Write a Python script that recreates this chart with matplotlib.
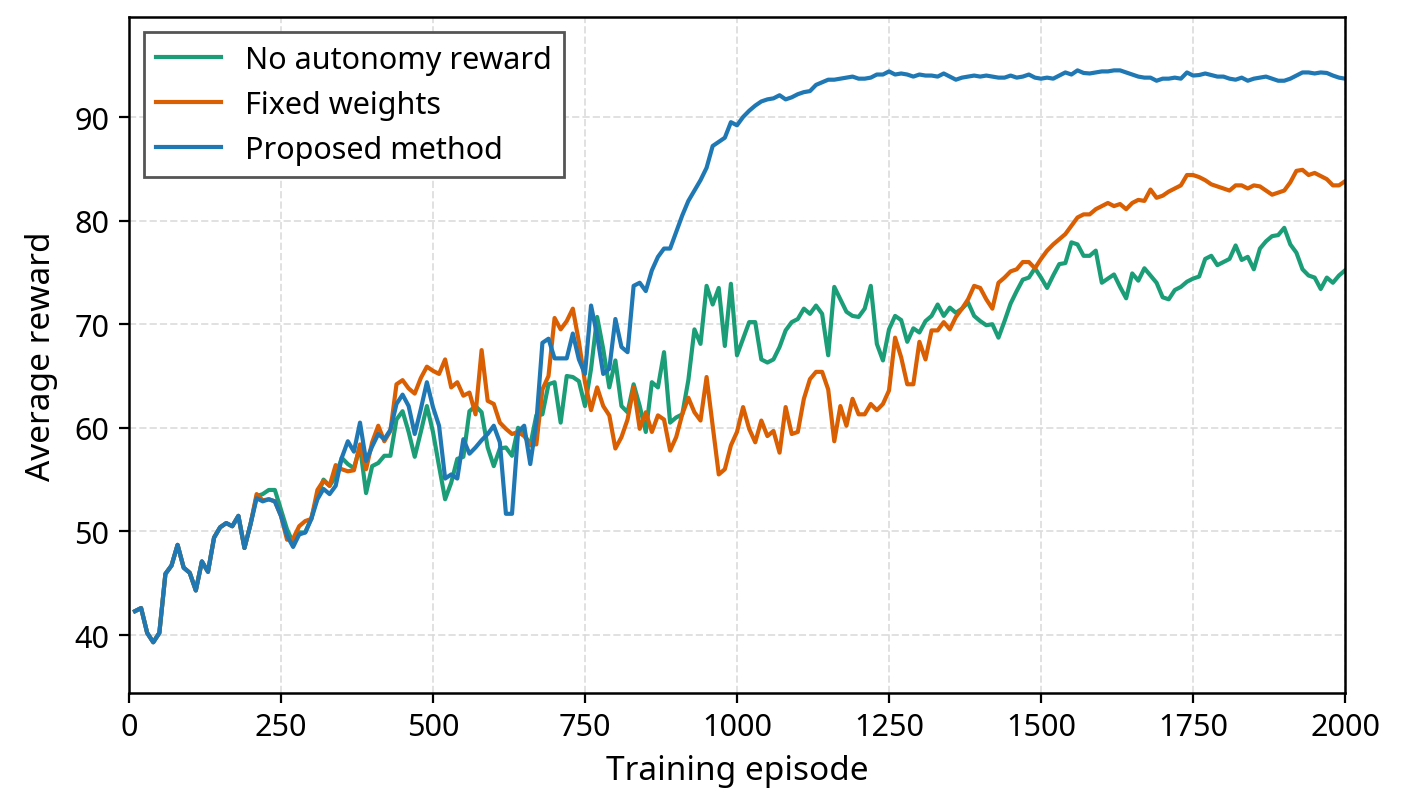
import numpy as np
import matplotlib
matplotlib.use('Agg')
import matplotlib.pyplot as plt

plt.rcParams['font.family'] = ['Noto Sans', 'DejaVu Sans']

# 每10个episode记录一次平均奖励
episodes = np.arange(10, 2001, 10)

no_autonomy = [
    42.3, 42.6, 40.2, 39.3, 40.2, 45.9, 46.7, 48.7, 46.5, 46.0,
    44.3, 47.1, 46.1, 49.4, 50.4, 50.8, 50.5, 51.5, 48.4, 50.7,
    53.4, 53.6, 54.0, 54.0, 52.1, 50.2, 48.9, 49.9, 49.9, 51.3,
    53.4, 55.0, 54.4, 55.3, 57.1, 56.5, 56.1, 58.2, 53.7, 56.3,
    56.6, 57.3, 57.3, 60.8, 61.6, 59.6, 57.2, 59.6, 62.1, 59.6,
    56.3, 53.1, 54.7, 57.0, 57.2, 61.6, 62.1, 61.5, 58.1, 56.3,
    58.0, 58.1, 57.3, 60.0, 59.4, 58.3, 61.2, 61.3, 64.2, 64.4,
    60.5, 65.0, 64.9, 64.5, 62.1, 65.7, 70.7, 67.6, 63.9, 66.5,
    62.1, 61.5, 64.2, 62.1, 59.6, 64.4, 63.9, 67.3, 60.5, 61.0,
    61.3, 64.6, 69.5, 68.1, 73.7, 71.9, 73.5, 67.9, 73.9, 67.0,
    68.6, 70.2, 70.2, 66.6, 66.3, 66.6, 67.8, 69.4, 70.2, 70.5,
    71.5, 71.0, 71.8, 71.0, 67.0, 73.6, 72.4, 71.2, 70.8, 70.7,
    71.5, 73.7, 68.1, 66.5, 69.5, 70.8, 70.4, 68.3, 69.6, 69.2,
    70.3, 70.8, 71.9, 70.8, 71.6, 71.1, 71.5, 72.1, 70.8, 70.3,
    69.9, 70.0, 68.7, 70.3, 72.0, 73.2, 74.3, 74.5, 75.4, 74.5,
    73.5, 74.7, 75.8, 75.9, 77.9, 77.7, 76.6, 76.6, 77.1, 74.0,
    74.4, 74.8, 73.6, 72.5, 74.9, 74.2, 75.4, 74.7, 74.0, 72.6,
    72.4, 73.3, 73.6, 74.1, 74.4, 74.6, 76.3, 76.6, 75.7, 76.0,
    76.3, 77.6, 76.2, 76.5, 75.3, 77.3, 78.0, 78.5, 78.6, 79.3,
    77.7, 76.9, 75.3, 74.7, 74.5, 73.4, 74.5, 74.0, 74.7, 75.2,
]

fixed_weights = [
    42.3, 42.6, 40.2, 39.3, 40.2, 45.9, 46.7, 48.7, 46.5, 46.0,
    44.3, 47.1, 46.1, 49.4, 50.4, 50.8, 50.5, 51.5, 48.4, 50.7,
    53.6, 53.0, 53.1, 52.9, 51.5, 49.2, 49.3, 50.5, 51.0, 51.2,
    54.0, 54.9, 54.4, 56.4, 56.0, 55.8, 55.9, 58.4, 56.0, 58.6,
    60.2, 58.7, 59.7, 64.2, 64.6, 63.8, 63.3, 64.8, 65.9, 65.5,
    65.2, 66.6, 63.9, 64.4, 63.1, 63.4, 61.3, 67.5, 62.6, 62.3,
    60.5, 59.9, 59.4, 59.6, 59.2, 58.4, 58.4, 63.7, 65.0, 70.6,
    69.5, 70.3, 71.5, 68.3, 64.4, 61.7, 63.9, 62.1, 61.2, 58.0,
    59.1, 60.8, 63.9, 59.9, 61.5, 59.6, 61.2, 60.8, 57.8, 59.1,
    61.3, 62.9, 61.5, 60.7, 64.9, 60.2, 55.5, 56.0, 58.3, 59.6,
    62.0, 59.9, 58.6, 60.7, 59.2, 59.7, 57.6, 62.0, 59.4, 59.6,
    62.8, 64.7, 65.4, 65.4, 63.7, 58.7, 62.1, 60.2, 62.8, 61.3,
    61.3, 62.3, 61.7, 62.3, 63.6, 68.7, 66.8, 64.2, 64.2, 68.3,
    66.6, 69.4, 69.4, 70.2, 69.5, 70.7, 71.5, 72.4, 73.7, 73.5,
    72.4, 71.5, 74.0, 74.5, 75.1, 75.3, 76.0, 76.0, 75.4, 76.3,
    77.1, 77.7, 78.2, 78.7, 79.5, 80.3, 80.6, 80.6, 81.1, 81.4,
    81.7, 81.4, 81.6, 81.1, 81.7, 82.0, 81.9, 83.0, 82.2, 82.4,
    82.8, 83.1, 83.4, 84.4, 84.4, 84.2, 83.9, 83.5, 83.3, 83.1,
    82.9, 83.4, 83.4, 83.1, 83.4, 83.3, 82.9, 82.5, 82.7, 82.9,
    83.7, 84.8, 84.9, 84.4, 84.6, 84.3, 84.0, 83.4, 83.4, 83.8,
]

proposed = [
    42.3, 42.6, 40.2, 39.3, 40.2, 45.9, 46.7, 48.7, 46.5, 46.0,
    44.3, 47.1, 46.1, 49.4, 50.4, 50.8, 50.5, 51.5, 48.4, 50.7,
    53.2, 52.9, 53.1, 52.9, 51.5, 49.6, 48.5, 49.7, 49.9, 51.2,
    53.1, 54.1, 53.6, 54.4, 57.1, 58.7, 57.7, 60.5, 56.8, 58.2,
    59.4, 58.9, 59.8, 62.3, 63.2, 62.1, 59.4, 61.8, 64.4, 62.0,
    60.2, 55.1, 55.5, 55.1, 58.9, 57.5, 58.1, 58.8, 59.4, 60.2,
    58.6, 51.7, 51.7, 59.6, 60.2, 56.5, 60.5, 68.2, 68.6, 66.7,
    66.7, 66.7, 69.1, 66.6, 65.2, 71.8, 68.9, 65.2, 65.7, 70.5,
    67.8, 67.3, 73.7, 74.0, 73.2, 75.2, 76.5, 77.3, 77.3, 78.9,
    80.5, 81.9, 82.9, 83.9, 85.1, 87.2, 87.6, 88.0, 89.5, 89.2,
    90.0, 90.6, 91.1, 91.5, 91.7, 91.8, 92.1, 91.7, 91.9, 92.2,
    92.4, 92.5, 93.1, 93.35, 93.6, 93.6, 93.7, 93.8, 93.9, 93.7,
    93.7, 93.8, 94.1, 94.1, 94.4, 94.1, 94.2, 94.1, 93.9, 94.1,
    94.0, 94.0, 93.9, 94.2, 93.9, 93.6, 93.8, 93.9, 94.0, 93.9,
    94.0, 93.9, 93.8, 93.8, 94.0, 93.8, 93.9, 94.1, 93.8, 93.7,
    93.8, 93.7, 94.0, 94.3, 94.1, 94.5, 94.25, 94.2, 94.3, 94.4,
    94.4, 94.5, 94.5, 94.3, 94.1, 93.9, 93.8, 93.8, 93.5, 93.7,
    93.7, 93.8, 93.7, 94.3, 94.0, 94.05, 94.2, 94.05, 93.9, 93.9,
    93.7, 93.6, 93.8, 93.5, 93.7, 93.8, 93.9, 93.7, 93.5, 93.5,
    93.7, 94.0, 94.3, 94.3, 94.2, 94.3, 94.25, 94.0, 93.8, 93.7,
]

series = {
    'No autonomy reward': (no_autonomy, '#1b9e77'),
    'Fixed weights': (fixed_weights, '#d95f02'),
    'Proposed method': (proposed, '#1f78b4'),
}

fig = plt.figure(figsize=(7.015, 4.06), dpi=200)
ax = fig.add_axes([0.0919, 0.1453, 0.8668, 0.8325])

for name, (vals, color) in series.items():
    ax.plot(episodes, vals, color=color, lw=1.5, label=name)

ax.set_xlim(0, 2000)
ax.set_ylim(34.4, 99.65)
ax.set_xticks([0, 250, 500, 750, 1000, 1250, 1500, 1750, 2000])
ax.set_yticks([40, 50, 60, 70, 80, 90])
ax.tick_params(labelsize=11, width=0.8, length=3.5, pad=3.5)
ax.grid(True, ls='--', color='#d9d9d9', lw=0.7, alpha=0.8)
ax.set_axisbelow(True)
for sp in ax.spines.values():
    sp.set_linewidth(0.9)

ax.set_xlabel('Training episode', fontsize=12, labelpad=4)
ax.set_ylabel('Average reward', fontsize=12, labelpad=6)

leg = ax.legend(loc='upper left', fontsize=11, fancybox=False, framealpha=1,
                edgecolor='#555555', handlelength=2.1)
leg.get_frame().set_linewidth(1.0)

fig.savefig('out.png', dpi=200)
